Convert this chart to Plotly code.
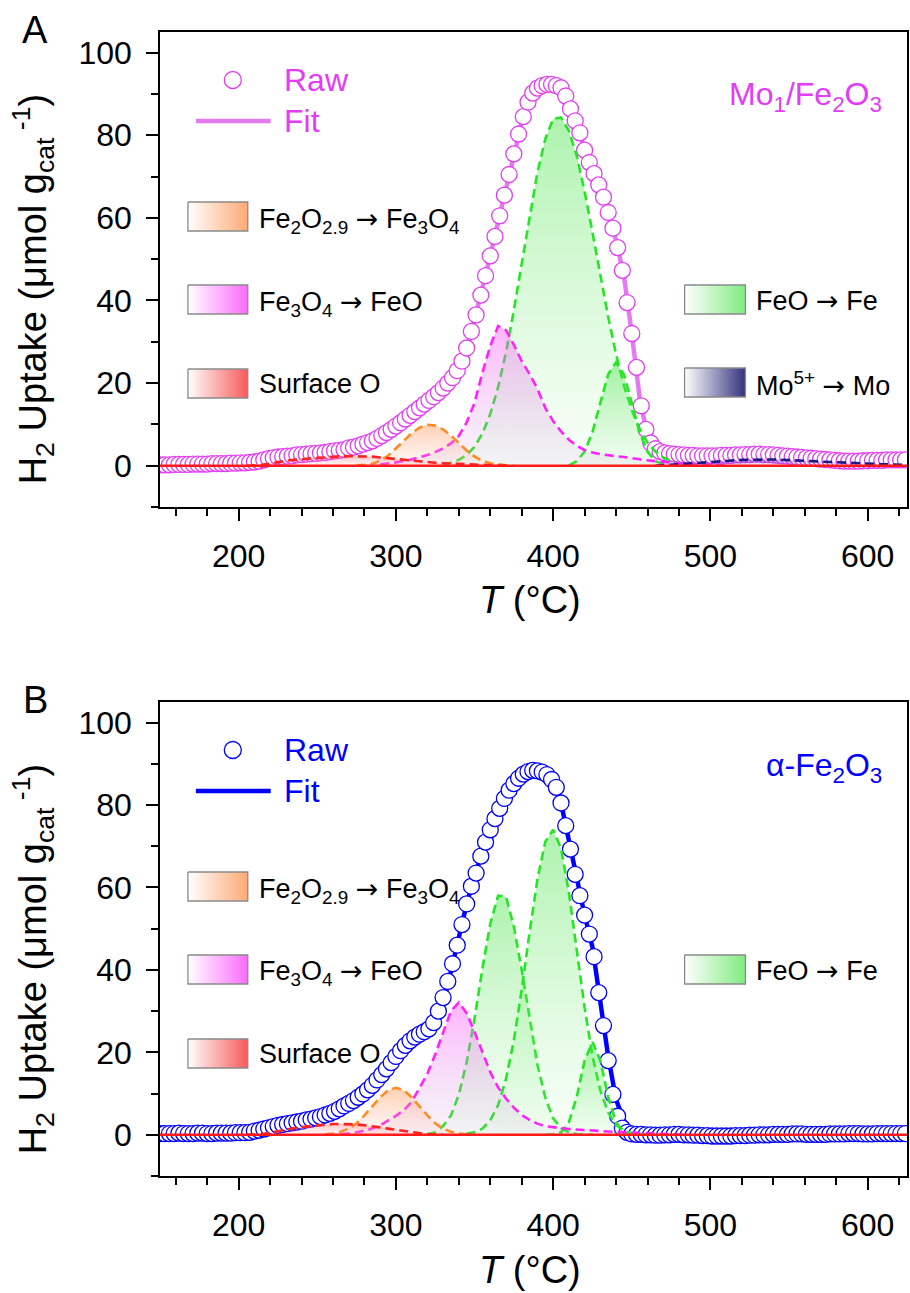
import plotly.graph_objects as go

FONT = "Liberation Sans, Arial, Helvetica, sans-serif"
W, H = 910, 1293
ML, MR, MT, MB = 160, 1, 32, 117
PW, PH = W - ML - MR, H - MT - MB


def xp(px):
    return (px - ML) / PW


def yp(py):
    return (H - MB - py) / PH


# ---------------- data ----------------
temps_raw = list(range(150, 625, 3))
raw_A = [0.2, 0.2, 0.2, 0.3, 0.3, 0.3, 0.3, 0.4, 0.4, 0.4, 0.4, 0.5, 0.5, 0.5, 0.5, 0.6, 0.6, 0.7, 0.7, 0.8,
         0.9, 1.1, 1.4, 1.7, 1.9, 2.1, 2.2, 2.3, 2.4, 2.6, 2.7, 2.8, 2.9, 3.0, 3.1, 3.2, 3.4, 3.6, 3.7, 3.9,
         4.3, 4.5, 4.8, 5.2, 5.6, 6.0, 6.6, 7.3, 8.0, 8.8, 9.6, 10.4, 11.3, 12.2, 13.1, 14.0, 14.9, 15.8, 16.7, 17.7,
         18.8, 20.0, 21.3, 23.0, 25.3, 28.5, 32.5, 36.5, 41.3, 46.0, 50.8, 55.5, 60.5, 65.5, 70.5, 75.5, 80.3, 84.5, 88.0, 90.2,
         91.4, 92.0, 92.3, 92.3, 92.0, 91.5, 89.5, 86.4, 83.5, 80.6, 76.4, 73.4, 70.7, 68.0, 65.0, 61.3, 57.5, 52.8, 47.3, 39.5,
         32.0, 23.8, 14.5, 8.8, 5.5, 4.1, 3.4, 3.1, 2.9, 2.8, 2.7, 2.6, 2.5, 2.5, 2.4, 2.4, 2.4, 2.4, 2.4, 2.5,
         2.5, 2.5, 2.6, 2.6, 2.7, 2.7, 2.8, 2.8, 2.7, 2.7, 2.6, 2.5, 2.4, 2.3, 2.2, 2.1, 2.0, 1.9, 1.8, 1.7,
         1.6, 1.5, 1.4, 1.3, 1.2, 1.1, 1.1, 1.1, 1.1, 1.2, 1.2, 1.3, 1.3, 1.3, 1.4, 1.4, 1.4, 1.4, 1.4]
raw_B = [0.3, 0.3, 0.3, 0.3, 0.4, 0.3, 0.3, 0.3, 0.4, 0.4, 0.3, 0.3, 0.4, 0.4, 0.4, 0.4, 0.5, 0.5, 0.5, 0.6,
         0.9, 1.1, 1.4, 1.7, 2.0, 2.3, 2.5, 2.7, 2.9, 3.1, 3.3, 3.6, 3.8, 4.1, 4.4, 4.8, 5.2, 5.7, 6.3, 7.0,
         7.6, 8.3, 9.1, 9.9, 10.9, 12.0, 13.3, 14.6, 16.0, 17.5, 19.0, 20.4, 21.7, 22.8, 23.7, 24.4, 25.0, 25.7, 27.2, 30.0,
         33.3, 37.2, 41.5, 46.0, 51.0, 56.0, 60.3, 63.5, 67.6, 71.0, 74.0, 76.7, 79.2, 81.6, 83.6, 85.2, 86.5, 87.5, 88.1, 88.4,
         88.3, 88.0, 87.4, 86.2, 84.3, 80.5, 75.0, 69.3, 63.2, 58.0, 53.3, 48.7, 43.2, 34.5, 26.5, 18.0, 9.8, 4.5, 1.6, 0.6,
         0.2, 0.1, 0.1, 0.0, 0.0, -0.1, -0.1, 0.0, 0.0, 0.1, 0.1, 0.0, 0.0, -0.1, -0.1, -0.2, -0.2, -0.3, -0.3, -0.3,
         -0.3, -0.3, -0.2, -0.2, -0.2, -0.1, -0.1, 0.0, 0.0, 0.0, 0.1, 0.1, 0.1, 0.1, 0.2, 0.2, 0.2, 0.1, 0.1, 0.1,
         0.1, 0.1, 0.2, 0.2, 0.2, 0.2, 0.3, 0.3, 0.3, 0.2, 0.2, 0.2, 0.3, 0.3, 0.3, 0.3, 0.3, 0.3, 0.3]

temps_fit = list(range(150, 626, 5))
fit_A = [0.3, 0.3, 0.3, 0.3, 0.4, 0.4, 0.4, 0.5, 0.5, 0.6,
         0.7, 0.8, 0.9, 1.3, 1.8, 2.1, 2.3, 2.5, 2.7, 2.9,
         3.0, 3.2, 3.5, 3.8, 4.2, 4.7, 5.3, 6.0, 7.0, 8.3,
         9.6, 11.0, 12.5, 14.0, 15.5, 17.0, 18.6, 20.6, 23.3, 27.5,
         35.0, 43.0, 50.8, 59.0, 67.0, 75.5, 83.0, 88.5, 91.4, 92.2,
         92.3, 91.5, 87.8, 82.0, 76.4, 71.5, 67.0, 61.5, 54.5, 46.0,
         32.0, 16.5, 7.0, 4.0, 3.2, 2.9, 2.7, 2.6, 2.5, 2.4,
         2.4, 2.4, 2.5, 2.6, 2.6, 2.7, 2.8, 2.7, 2.6, 2.5,
         2.3, 2.1, 1.9, 1.8, 1.6, 1.4, 1.3, 1.1, 1.1, 1.1,
         1.2, 1.3, 1.3, 1.4, 1.4, 1.4]
fit_B = [0.3, 0.3, 0.3, 0.3, 0.3, 0.3, 0.3, 0.3, 0.3, 0.4,
         0.5, 0.6, 0.9, 1.3, 1.8, 2.3, 2.6, 2.9, 3.3, 3.7,
         4.2, 4.7, 5.5, 6.4, 7.6, 9.0, 10.6, 12.3, 14.2, 16.3,
         18.3, 20.0, 21.5, 22.8, 24.0, 26.0, 31.5, 40.0, 48.5, 56.0,
         62.8, 68.3, 73.8, 78.3, 82.3, 85.2, 87.1, 88.2, 88.3, 87.6,
         85.3, 80.5, 71.5, 61.5, 53.3, 45.5, 32.0, 19.0, 8.5, 3.5,
         1.0, 0.3, 0.1, 0.0, 0.0, 0.0, 0.0, 0.0, 0.0, 0.0,
         0.0, 0.0, 0.0, 0.0, 0.0, 0.0, 0.0, 0.0, 0.0, 0.0,
         0.0, 0.0, 0.0, 0.0, 0.0, 0.0, 0.0, 0.0, 0.0, 0.0,
         0.0, 0.0, 0.0, 0.0, 0.0, 0.0]

# peak components, panel A (Mo1/Fe2O3)
feo_fe_A1_T = list(range(330, 496, 5))
feo_fe_A1 = [0.3, 0.7, 1.4, 2.6, 4.6, 7.8, 12.5, 19.0, 27.4, 37.6, 48.9, 60.5, 71.0, 79.1, 84.0, 84.3, 81.1,
             75.0, 66.4, 56.5, 46.0, 36.0, 27.0, 19.4, 13.4, 8.9, 5.6, 3.4, 2.0, 1.1, 0.6, 0.3, 0.1, 0.0]
feo_fe_A2_T = list(range(410, 476, 5))
feo_fe_A2 = [0.1, 1.1, 3.4, 8.1, 15.2, 22.1, 25.0, 22.1, 15.2, 8.1, 3.4, 1.1, 0.3, 0.0]
fe3o4_A_T = list(range(290, 511, 5))
fe3o4_A = [0.3, 0.5, 0.8, 1.1, 1.5, 2.0, 2.6, 3.3, 4.2, 5.4, 7.2, 10.5, 15.2, 22.5, 29.0, 33.8, 32.8, 29.3,
           25.3, 22.2, 18.6, 14.0, 10.8, 8.3, 6.3, 4.8, 3.8, 3.2, 2.8, 2.5, 2.3, 2.1, 1.8, 1.5, 1.3, 1.1,
           0.9, 0.8, 0.6, 0.5, 0.4, 0.3, 0.2, 0.1, 0.0]
fe2o29_A_T = list(range(275, 376, 5))
fe2o29_A = [0.1, 0.2, 0.5, 1.2, 2.4, 4.1, 6.0, 7.9, 9.2, 9.9, 9.7, 8.8, 7.3, 5.5, 3.7, 2.2, 1.2, 0.6, 0.3, 0.1, 0.0]
surf_A_T = list(range(205, 371, 5))
surf_A = [0.0, 0.05, 0.2, 0.5, 0.9, 1.2, 1.4, 1.6, 1.8, 1.9, 2.0, 2.2, 2.3, 2.3, 2.3, 2.3, 2.2, 2.0, 1.8,
          1.6, 1.4, 1.2, 1.0, 0.9, 0.7, 0.6, 0.5, 0.4, 0.3, 0.2, 0.15, 0.1, 0.05, 0.0]
mo_A_T = list(range(465, 626, 5))
mo_A = [0.0, 0.1, 0.2, 0.3, 0.45, 0.6, 0.75, 0.9, 1.05, 1.2, 1.3, 1.4, 1.45, 1.5, 1.5, 1.5, 1.45, 1.4,
        1.3, 1.2, 1.1, 1.0, 0.9, 0.8, 0.7, 0.6, 0.5, 0.45, 0.4, 0.35, 0.3, 0.25, 0.2]

# peak components, panel B (alpha-Fe2O3)
feo_fe_B1_T = list(range(320, 426, 5))
feo_fe_B1 = [0.2, 0.6, 2.1, 4.7, 9.7, 17.6, 28.2, 40.3, 51.2, 58.0, 57.8, 50.5, 40.0, 28.5, 17.0, 9.0,
             4.0, 1.6, 0.6, 0.2, 0.05, 0.0]
feo_fe_B2_T = list(range(345, 461, 5))
feo_fe_B2 = [0.3, 0.6, 1.5, 3.5, 7.2, 13.5, 22.9, 35.2, 49.1, 62.0, 71.1, 74.0, 69.5, 58.8, 44.9, 30.9,
             19.1, 10.7, 5.4, 2.4, 1.0, 0.4, 0.1, 0.0]
feo_fe_B3_T = list(range(395, 456, 5))
feo_fe_B3 = [0.0, 0.1, 0.6, 3.0, 9.2, 18.0, 22.5, 18.0, 9.2, 3.0, 0.6, 0.1, 0.0]
fe3o4_B_T = list(range(265, 486, 5))
fe3o4_B = [0.1, 0.3, 0.6, 1.0, 1.5, 2.3, 3.4, 4.6, 5.9, 8.0, 11.3, 14.8, 19.5, 25.0, 30.0, 32.1, 29.5,
           25.0, 20.0, 15.2, 11.5, 8.8, 6.6, 4.8, 3.6, 2.7, 2.1, 1.8, 1.6, 1.4, 1.25, 1.1, 1.0, 0.9,
           0.8, 0.7, 0.6, 0.5, 0.4, 0.3, 0.25, 0.2, 0.1, 0.05, 0.0]
fe2o29_B_T = list(range(255, 351, 5))
fe2o29_B = [0.1, 0.3, 0.75, 1.5, 2.8, 4.7, 6.9, 9.1, 10.8, 11.4, 10.8, 9.1, 6.9, 4.7, 2.8, 1.5, 0.75, 0.3, 0.1, 0.0]
surf_B_T = list(range(205, 331, 5))
surf_B = [0.0, 0.0, 0.1, 0.5, 0.9, 1.3, 1.6, 1.9, 2.1, 2.3, 2.5, 2.6, 2.6, 2.6, 2.5, 2.3, 2.1, 1.8,
          1.5, 1.2, 0.9, 0.6, 0.4, 0.2, 0.1, 0.0]

# ---------------- styles ----------------
MAG_RAW = "#E33CF5"
MAG_FIT = "#E47AF0"
BLUE = "#0000FF"
STY = {
    "green": ("#26E526", "rgba(60,225,60,0.42)", "rgba(140,240,140,0.06)", "#7FEC7F"),
    "magenta": ("#FF22FF", "rgba(255,90,255,0.45)", "rgba(205,165,215,0.12)", "#FA6CFA"),
    "orange": ("#FF8C22", "rgba(255,140,70,0.42)", "rgba(255,185,170,0.12)", "#FDAA74"),
    "red": ("#FF2222", "rgba(255,80,80,0.35)", "rgba(255,160,160,0.08)", "#F85A5A"),
    "navy": ("#1A1A85", "rgba(50,50,140,0.35)", "rgba(120,120,170,0.08)", "#34347E"),
}

fig = go.Figure()


def add_panel(xa, ya, raw, fit, comps, raw_color, fit_color):
    fig.add_trace(go.Scatter(x=temps_fit, y=fit, mode="lines", xaxis=xa, yaxis=ya,
                             line=dict(color=fit_color, width=4.5), hoverinfo="skip"))
    fig.add_trace(go.Scatter(x=temps_raw, y=raw, mode="markers", xaxis=xa, yaxis=ya,
                             marker=dict(symbol="circle", size=16, color="white",
                                         line=dict(color=raw_color, width=1.3)), hoverinfo="skip"))
    for tx, ty, key in comps:
        lc, top, bot, _ = STY[key]
        fig.add_trace(go.Scatter(x=tx, y=ty, mode="lines", xaxis=xa, yaxis=ya,
                                 line=dict(color=lc, width=2.6, dash="9px,5px"),
                                 fill="tozeroy",
                                 fillgradient=dict(type="vertical", colorscale=[[0, bot], [1, top]]),
                                 hoverinfo="skip"))


add_panel("x", "y", raw_A, fit_A,
          [(feo_fe_A1_T, feo_fe_A1, "green"), (feo_fe_A2_T, feo_fe_A2, "green"),
           (fe3o4_A_T, fe3o4_A, "magenta"), (fe2o29_A_T, fe2o29_A, "orange"),
           (surf_A_T, surf_A, "red"), (mo_A_T, mo_A, "navy")],
          MAG_RAW, MAG_FIT)
add_panel("x2", "y2", raw_B, fit_B,
          [(feo_fe_B1_T, feo_fe_B1, "green"), (feo_fe_B2_T, feo_fe_B2, "green"),
           (feo_fe_B3_T, feo_fe_B3, "green"),
           (fe3o4_B_T, fe3o4_B, "magenta"), (fe2o29_B_T, fe2o29_B, "orange"),
           (surf_B_T, surf_B, "red")],
          BLUE, BLUE)

# ---------------- decorations (page-pixel overlay axes) ----------------
DY = 670
swatches = [
    (188, 202, 248, 231, "orange", 0), (188, 285, 248, 314, "magenta", 0), (188, 369, 248, 398, "red", 0),
    (686, 285, 747, 314, "green", 0), (686, 368, 747, 397, "navy", 0),
    (188, 202, 248, 231, "orange", DY), (188, 285, 248, 314, "magenta", DY), (188, 369, 248, 398, "red", DY),
    (686, 285, 747, 314, "green", DY),
]
for x0, y0, x1, y1, key, dy in swatches:
    fig.add_trace(go.Scatter(x=[x0, x1, x1, x0, x0], y=[y0 + dy, y0 + dy, y1 + dy, y1 + dy, y0 + dy],
                             mode="lines", xaxis="x3", yaxis="y3", fill="toself",
                             fillgradient=dict(type="horizontal",
                                               colorscale=[[0, "#FFFFFF"], [1, STY[key][3]]]),
                             line=dict(color="#8a8a8a", width=1.3), hoverinfo="skip"))

for dy, col, fcol in [(0, MAG_RAW, MAG_FIT), (DY, BLUE, BLUE)]:
    fig.add_trace(go.Scatter(x=[233], y=[80 + dy], mode="markers", xaxis="x3", yaxis="y3",
                             marker=dict(symbol="circle", size=17, color="white",
                                         line=dict(color=col, width=1.3)), hoverinfo="skip"))
    fig.add_trace(go.Scatter(x=[196, 271], y=[121 + dy, 121 + dy], mode="lines", xaxis="x3", yaxis="y3",
                             line=dict(color=fcol, width=4.5), hoverinfo="skip"))

annotations = []


def ann(px, py, text, size, color="black", xanchor="left", yanchor="middle", angle=0):
    annotations.append(dict(x=xp(px), y=yp(py), xref="paper", yref="paper", text=text, showarrow=False,
                            xanchor=xanchor, yanchor=yanchor, textangle=angle,
                            font=dict(family=FONT, size=size, color=color)))


ARROW = "<span style=\"font-family:DejaVu Sans\">\u2192</span>"
ytitle = "H<sub>2</sub> Uptake (\u03bcmol g<sub>cat</sub><sup> -1</sup>)"
for dy, letter, col, sample in [(0, "A", MAG_RAW, "Mo<sub>1</sub>/Fe<sub>2</sub>O<sub>3</sub>"),
                                (DY, "B", BLUE, "\u03b1-Fe<sub>2</sub>O<sub>3</sub>")]:
    ann(35, 30 + dy, letter, 38, xanchor="center")
    ann(282, 80 + dy, "Raw", 32, color=col)
    ann(282, 121 + dy, "Fit", 32, color=col)
    ann(886, 97 + dy, sample, 32, color=col, xanchor="right")
    ann(257, 220 + dy, "Fe<sub>2</sub>O<sub>2.9</sub> " + ARROW + " Fe<sub>3</sub>O<sub>4</sub>", 27)
    ann(257, 303 + dy, "Fe<sub>3</sub>O<sub>4</sub> " + ARROW + " FeO", 27)
    ann(257, 384 + dy, "Surface O", 27)
    ann(756, 300 + dy, "FeO " + ARROW + " Fe", 27)
    ann(33, 289 + dy, ytitle, 38, xanchor="center", angle=-90)
    ann(531, 600 + dy, "<i>T</i> (\u00b0C)", 38, xanchor="center")
ann(756, 384, "Mo<sup>5+</sup> " + ARROW + " Mo", 27)

# ---------------- axes ----------------
tickfont = dict(family=FONT, size=32, color="black")


def xax(anchor):
    return dict(domain=[0, 1], anchor=anchor, range=[150, 625], tick0=0, dtick=100,
                ticks="outside", ticklen=12, tickwidth=1.5, tickcolor="black",
                minor=dict(dtick=20, tick0=0, ticks="outside", ticklen=7, tickwidth=1.5, tickcolor="black"),
                showline=True, linewidth=1.6, linecolor="black", mirror=True,
                showgrid=False, zeroline=False, tickfont=tickfont, ticklabelstandoff=8)


def yax(anchor, dom):
    return dict(domain=dom, anchor=anchor, range=[-10, 105], tick0=0, dtick=20,
                ticks="outside", ticklen=12, tickwidth=1.5, tickcolor="black",
                minor=dict(dtick=10, tick0=0, ticks="outside", ticklen=7, tickwidth=1.5, tickcolor="black"),
                showline=True, linewidth=1.6, linecolor="black", mirror=True,
                showgrid=False, zeroline=False, tickfont=tickfont, ticklabelstandoff=8)


shapes = [dict(type="line", xref="x domain", x0=0, x1=1, yref="y", y0=0, y1=0,
               line=dict(color="#FF1A1A", width=2.4), layer="above"),
          dict(type="line", xref="x2 domain", x0=0, x1=1, yref="y2", y0=0, y1=0,
               line=dict(color="#FF1A1A", width=2.4), layer="above")]

fig.update_layout(
    width=W, height=H, margin=dict(l=ML, r=MR, t=MT, b=MB),
    paper_bgcolor="white", plot_bgcolor="rgba(0,0,0,0)", showlegend=False,
    font=dict(family=FONT, color="black"),
    xaxis=xax("y"), yaxis=yax("x", [yp(507), 1.0]),
    xaxis2=xax("y2"), yaxis2=yax("x2", [0.0, yp(702)]),
    xaxis3=dict(domain=[0, 1], anchor="y3", range=[ML, W - MR], visible=False, fixedrange=True),
    yaxis3=dict(domain=[0, 1], anchor="x3", range=[H - MB, MT], visible=False, fixedrange=True),
    annotations=annotations, shapes=shapes,
)

fig.write_html("out.html", config={"displayModeBar": False})
